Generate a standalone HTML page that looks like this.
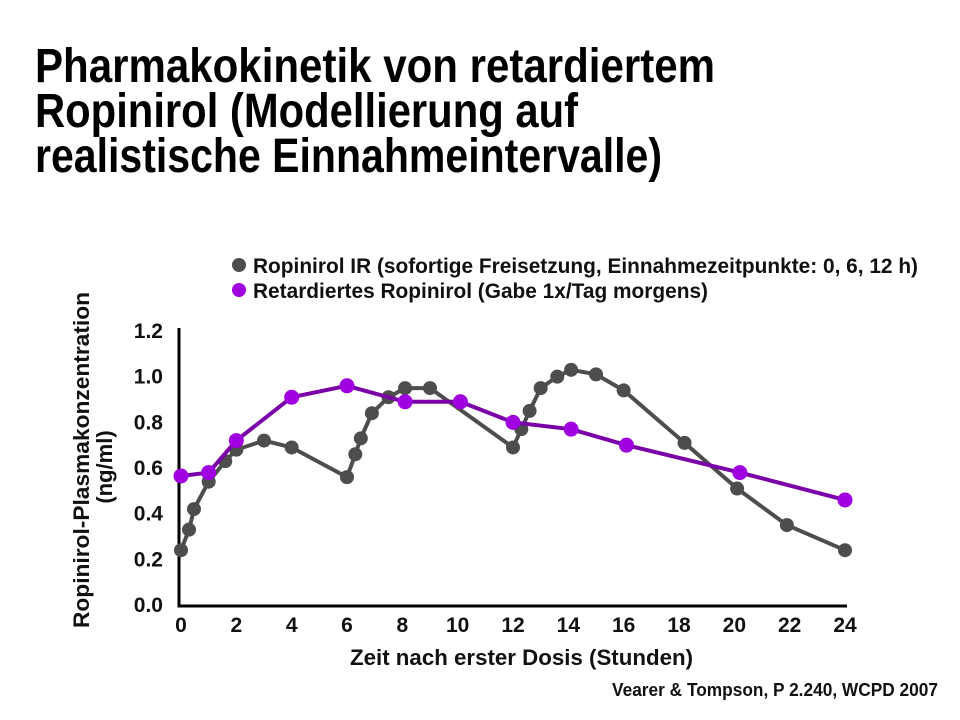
<!DOCTYPE html>
<html><head><meta charset="utf-8"><style>
html,body{margin:0;padding:0;background:#fff;}
svg{display:block;font-family:"Liberation Sans",sans-serif;font-weight:bold;}
</style></head><body>
<svg id="chart" width="960" height="720" viewBox="0 0 960 720" xmlns="http://www.w3.org/2000/svg">
<rect width="960" height="720" fill="#fff"/>
<g font-size="48" fill="#000">
<text x="35" y="82" textLength="680" lengthAdjust="spacingAndGlyphs">Pharmakokinetik von retardiertem</text>
<text x="35" y="127" textLength="543" lengthAdjust="spacingAndGlyphs">Ropinirol (Modellierung auf</text>
<text x="35" y="172" textLength="627" lengthAdjust="spacingAndGlyphs">realistische Einnahmeintervalle)</text>
</g>
<g font-size="21" fill="#111">
<g><circle cx="239" cy="265" r="7" fill="#4d4d4d"/><text x="253" y="273" textLength="665" lengthAdjust="spacingAndGlyphs">Ropinirol IR (sofortige Freisetzung, Einnahmezeitpunkte: 0, 6, 12 h)</text></g>
<g><circle cx="239" cy="290" r="7" fill="#a000e0"/><text x="253" y="298" textLength="455" lengthAdjust="spacingAndGlyphs">Retardiertes Ropinirol (Gabe 1x/Tag morgens)</text></g>
</g>
<g font-size="22" fill="#111" text-anchor="middle">
<text transform="translate(89,460) rotate(-90)" textLength="336" lengthAdjust="spacingAndGlyphs">Ropinirol-Plasmakonzentration</text>
<text transform="translate(112,467) rotate(-90)">(ng/ml)</text>
</g>
<text x="350" y="665" font-size="22" fill="#111" textLength="343" lengthAdjust="spacingAndGlyphs">Zeit nach erster Dosis (Stunden)</text>
<text x="612" y="696" font-size="18" fill="#111" textLength="326" lengthAdjust="spacingAndGlyphs">Vearer &amp; Tompson, P 2.240, WCPD 2007</text>
<g id="axes"></g>
<g id="series"></g>
</svg>
<script>
const xTicks=[0,2,4,6,8,10,12,14,16,18,20,22,24];
const yTicks=[0,0.2,0.4,0.6,0.8,1.0,1.2];
const irTimes=[0,0.29,0.47,1.0,1.6,2.0,3.0,4.0,6.0,6.3,6.5,6.9,7.5,8.1,9.0,12.0,12.3,12.6,13.0,13.6,14.1,15.0,16.0,18.2,20.1,21.9,24.0];
const irValues=[0.24,0.33,0.42,0.54,0.63,0.68,0.72,0.69,0.56,0.66,0.73,0.84,0.91,0.95,0.95,0.69,0.77,0.85,0.95,1.00,1.03,1.01,0.94,0.71,0.51,0.35,0.24];
const srTimes=[0,1.0,2.0,4.0,6.0,8.1,10.1,12.0,14.1,16.1,20.2,24.0];
const srValues=[0.565,0.58,0.72,0.91,0.96,0.89,0.89,0.80,0.77,0.70,0.58,0.46];
const NS="http://www.w3.org/2000/svg";
function xs(t){return 181+t*(845-181)/24;}
function ys(v){return 605-v*(605-331)/1.2;}
function mk(tag,attrs,parent){const e=document.createElementNS(NS,tag);for(const k in attrs)e.setAttribute(k,attrs[k]);parent.appendChild(e);return e;}
const axes=document.getElementById('axes');
const ya=mk('line',{x1:179,y1:328,x2:179,y2:607,stroke:'#000','stroke-width':3},axes);


const xa=mk('line',{x1:177.5,y1:606,x2:847,y2:606,stroke:'#000','stroke-width':3},axes);


xTicks.forEach(t=>{const e=mk('text',{x:xs(t),y:632,'font-size':21,'text-anchor':'middle',fill:'#111'},axes);e.textContent=String(t);

});
yTicks.forEach(v=>{const e=mk('text',{x:163,y:ys(v)+7,'font-size':21,'text-anchor':'end',fill:'#111'},axes);e.textContent=v.toFixed(1);

});
const ser=document.getElementById('series');
function draw(times,vals,lineColor,dotColor,r,name){
  const g=mk('g',{},ser);
  
  
  const pl=mk('polyline',{points:times.map((t,i)=>xs(t)+','+ys(vals[i])).join(' '),fill:'none',stroke:lineColor,'stroke-width':4,'stroke-linejoin':'round'},g);
  
  
  times.forEach((t,i)=>{const c=mk('circle',{cx:xs(t),cy:ys(vals[i]),r:r,fill:dotColor},g);
  
  });
}
draw(irTimes,irValues,'#4d4d4d','#4d4d4d',7,'ropinirol-ir');
draw(srTimes,srValues,'#7a00a8','#a000e0',7.5,'retard');
</script>
</body></html>
